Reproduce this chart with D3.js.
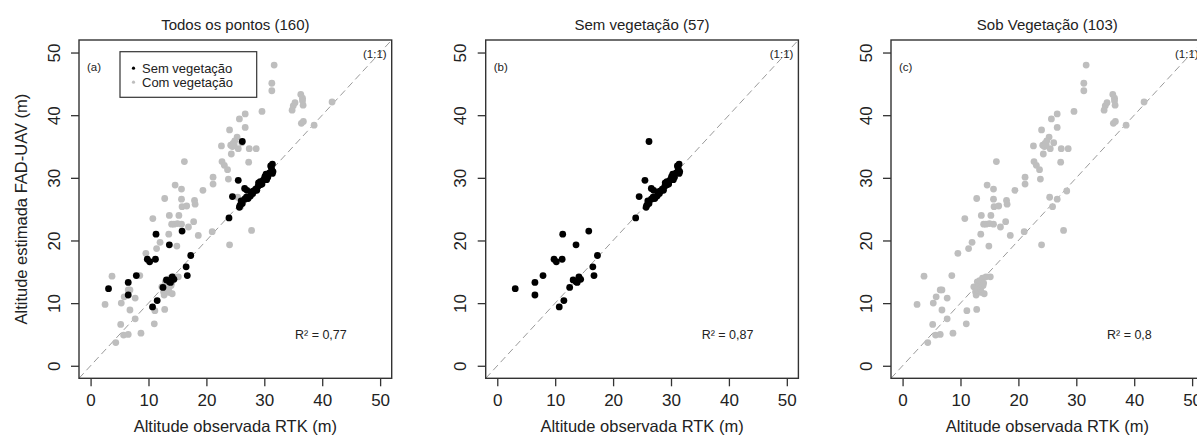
<!DOCTYPE html>
<html>
<head>
<meta charset="utf-8">
<script src="https://cdn.jsdelivr.net/npm/d3@7"></script>
<style>
  body { margin: 0; background: #fff; }
  text { font-family: "Liberation Sans", Arial, sans-serif; fill: #222; }
</style>
</head>
<body>
<script>
// points without vegetation (observed RTK, estimated FAD-UAV)
const semVeg = [
  [3.1, 12.3], [6.5, 13.3], [6.5, 11.3], [7.9, 14.4], [9.8, 17.0], [10.2, 16.6],
  [11.2, 17.0], [11.3, 21.0], [13.6, 19.3], [15.8, 21.5], [17.3, 17.6], [16.5, 15.8],
  [16.7, 14.4], [12.5, 12.5], [13.1, 13.7], [13.6, 13.4], [14.1, 14.2], [14.4, 13.8],
  [13.8, 13.3], [11.5, 10.4], [10.7, 9.4],
  [26.2, 35.8], [25.5, 29.6], [24.5, 27.0], [23.9, 23.6], [26.6, 28.3], [27.0, 28.0],
  [25.8, 25.6], [26.0, 26.3], [26.6, 26.6], [25.7, 25.3], [26.2, 25.9], [27.2, 26.7],
  [27.6, 27.1], [28.0, 27.5], [28.2, 27.9], [28.5, 28.2], [28.9, 28.6], [29.3, 28.9],
  [29.3, 29.4], [29.6, 29.0], [29.8, 29.6], [30.1, 30.2], [30.3, 30.6], [30.6, 30.1],
  [30.0, 29.8], [30.9, 30.8], [31.4, 30.7], [31.25, 31.5], [31.4, 32.2], [31.5, 31.0],
  [28.7, 28.0], [29.0, 29.2], [27.9, 27.8], [30.4, 29.7], [31.1, 31.9], [26.9, 26.9]
];
// points under vegetation
const comVeg = [
  [2.5, 9.8], [3.7, 14.3], [4.35, 3.7], [5.2, 6.6], [5.3, 10.0], [5.8, 11.0],
  [5.7, 4.9], [6.5, 5.0], [6.5, 12.1], [6.8, 12.1], [6.8, 8.9], [7.7, 10.8],
  [7.7, 7.5], [8.5, 14.4], [8.7, 5.2], [9.55, 17.95], [10.75, 23.5], [11.0, 6.7],
  [11.1, 8.8], [11.4, 18.7], [12.0, 19.7], [12.8, 9.0],
  [12.3, 12.6], [12.6, 11.8], [12.7, 11.3], [12.9, 13.4], [13.0, 12.0], [13.1, 12.9],
  [13.3, 13.6], [13.5, 12.4], [13.6, 11.7], [13.8, 14.0], [14.1, 11.5], [14.4, 14.2],
  [15.15, 14.2], [13.9, 12.8], [14.0, 13.2],
  [13.5, 21.0], [14.9, 19.1], [13.6, 24.0], [15.25, 24.0], [14.0, 22.6], [14.4, 22.6],
  [15.0, 22.7], [15.7, 22.6], [16.9, 22.15], [17.8, 23.0], [18.6, 20.8], [21.0, 21.4],
  [24.0, 19.3], [27.8, 21.6], [12.8, 26.7], [14.6, 28.85], [15.7, 28.2], [15.7, 26.6],
  [15.8, 25.4], [16.6, 25.5], [17.95, 26.4], [18.05, 25.8], [16.2, 32.6], [19.4, 28.0],
  [21.15, 30.1], [21.15, 29.0], [22.6, 35.1], [22.7, 32.6], [23.1, 32.0], [23.65, 31.3],
  [23.8, 29.8], [24.0, 37.65], [25.3, 36.5], [24.2, 35.2], [24.6, 35.5], [24.5, 35.0],
  [24.9, 35.9], [26.1, 35.6], [25.5, 34.65], [27.4, 34.65], [28.6, 34.65], [24.3, 33.8],
  [27.3, 32.5], [25.4, 26.9], [25.9, 25.4], [26.7, 26.6], [28.35, 27.9], [25.7, 39.4],
  [26.7, 40.2], [26.7, 38.05], [29.6, 40.6], [31.3, 43.9], [31.3, 45.1], [31.7, 48.0],
  [34.8, 40.8], [35.0, 41.5], [35.3, 42.0], [36.3, 43.3], [36.6, 42.7], [36.6, 42.3],
  [36.7, 41.6], [36.4, 38.7], [36.75, 39.0], [38.6, 38.4], [41.7, 42.1], [24.8, 35.3]
];

const panelTitles = ["Todos os pontos (160)", "Sem vegetação (57)", "Sob Vegetação (103)"];
const panelLetters = ["(a)", "(b)", "(c)"];
const r2Labels = ["R² = 0,77", "R² = 0,87", "R² = 0,8"];
const legendLabels = ["Sem vegetação", "Com vegetação"];
const tickValues = [0, 10, 20, 30, 40, 50];
const lim = [-2, 52];

const w = 1197;
const h = 437;
const marginTop = 40, plotW = 312.7, plotH = 338.3;
const lefts = [79, 485.7, 891];
const black = "#000", grey = "#bebebe";

const svg = d3.select("body")
    .append("svg")
    .attr("width", w)
    .attr("height", h);

const xScale = d3.scaleLinear().domain(lim).range([0, plotW]);
const yScale = d3.scaleLinear().domain(lim).range([plotH, 0]);

// which series go in which panel
const panelSeries = [
  [{ d: comVeg, c: grey }, { d: semVeg, c: black }],
  [{ d: semVeg, c: black }],
  [{ d: comVeg, c: grey }]
];

lefts.forEach((left, p) => {
  const g = svg.append("g").attr("transform", `translate(${left},${marginTop})`);

  g.append("clipPath").attr("id", "clip" + p)
    .append("rect").attr("width", plotW).attr("height", plotH);

  // 1:1 line
  g.append("line")
    .attr("clip-path", `url(#clip${p})`)
    .attr("x1", xScale(lim[0])).attr("y1", yScale(lim[0]))
    .attr("x2", xScale(lim[1])).attr("y2", yScale(lim[1]))
    .attr("stroke", "#9a9a9a")
    .attr("stroke-width", 1)
    .attr("stroke-dasharray", "7,4");

  panelSeries[p].forEach(s => {
    g.append("g").selectAll("circle")
      .data(s.d)
      .enter()
      .append("circle")
      .attr("cx", d => xScale(d[0]))
      .attr("cy", d => yScale(d[1]))
      .attr("r", 3.4)
      .attr("fill", s.c);
  });

  // box
  g.append("rect")
    .attr("width", plotW).attr("height", plotH)
    .attr("fill", "none")
    .attr("stroke", "#333")
    .attr("stroke-width", 1.4);

  // axes
  const xAxis = g.append("g")
    .attr("transform", `translate(0,${plotH})`)
    .call(d3.axisBottom(xScale).tickValues(tickValues).tickSize(8).tickPadding(0));
  xAxis.select(".domain").remove();
  xAxis.selectAll("line").attr("stroke", "#333").attr("stroke-width", 1.3);
  xAxis.selectAll("text")
    .attr("y", 22.5).attr("dy", null)
    .attr("dominant-baseline", "central")
    .style("font-size", "17px")
    .style("font-family", "'Liberation Sans', Arial, sans-serif")
    .attr("fill", "#222");

  const yAxis = g.append("g")
    .call(d3.axisLeft(yScale).tickValues(tickValues).tickSize(8).tickPadding(0));
  yAxis.select(".domain").remove();
  yAxis.selectAll("line").attr("stroke", "#333").attr("stroke-width", 1.3);
  yAxis.selectAll("text")
    .attr("x", null).attr("dy", null)
    .attr("transform", "translate(-25,0) rotate(-90)")
    .attr("text-anchor", "middle")
    .attr("dominant-baseline", "central")
    .style("font-size", "17px")
    .style("font-family", "'Liberation Sans', Arial, sans-serif")
    .attr("fill", "#222");

  // title
  g.append("text")
    .attr("x", plotW / 2).attr("y", -10)
    .attr("text-anchor", "middle")
    .style("font-size", "15px")
    .text(panelTitles[p]);

  // x label
  g.append("text")
    .attr("x", plotW / 2).attr("y", plotH + 54)
    .attr("text-anchor", "middle")
    .style("font-size", "16.5px")
    .text("Altitude observada RTK (m)");

  g.append("text")
    .attr("x", 8).attr("y", 30.5)
    .style("font-size", "11.5px")
    .text(panelLetters[p]);

  g.append("text")
    .attr("x", plotW - 5).attr("y", 17.5)
    .attr("text-anchor", "end")
    .style("font-size", "11.5px")
    .attr("fill", "#333")
    .text("(1:1)");

  g.append("text")
    .attr("x", xScale(35.3)).attr("y", yScale(4.9))
    .attr("dominant-baseline", "central")
    .style("font-size", "12.5px")
    .text(r2Labels[p]);

  if (p === 0) {
    // legend
    const lg = g.append("g").attr("transform", "translate(41,11.7)");
    lg.append("rect")
      .attr("width", 136.7).attr("height", 45.6)
      .attr("fill", "#fff").attr("stroke", "#333").attr("stroke-width", 1.2);
    lg.selectAll("circle")
      .data(legendLabels)
      .enter()
      .append("circle")
      .attr("cx", 13.5)
      .attr("cy", (d, i) => 16.5 + i * 14)
      .attr("r", 1.6)
      .attr("fill", (d, i) => i === 0 ? black : grey);
    lg.selectAll("text")
      .data(legendLabels)
      .enter()
      .append("text")
      .attr("x", 22)
      .attr("y", (d, i) => 16.5 + i * 14)
      .attr("dominant-baseline", "central")
      .style("font-size", "13px")
      .text(d => d);
  }
});

// y label (only left panel)
svg.append("text")
  .attr("transform", `translate(27,${marginTop + plotH / 2}) rotate(-90)`)
  .attr("text-anchor", "middle")
  .style("font-size", "16.5px")
  .text("Altitude estimada FAD-UAV (m)");
</script>
</body>
</html>
